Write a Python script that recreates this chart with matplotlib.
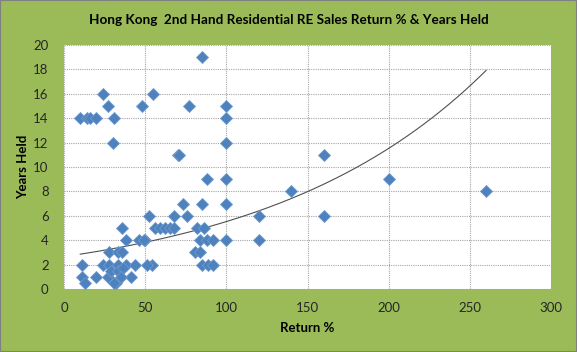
import matplotlib.pyplot as plt
import numpy as np
from matplotlib.patches import Rectangle

plt.rcParams['font.family'] = ['Lato', 'DejaVu Sans']

title = 'Hong Kong  2nd Hand Residential RE Sales Return % & Years Held'
x_label = 'Return %'
y_label = 'Years Held'

# return % of each sale
return_pct = [10, 14, 16, 20, 24, 27, 31, 30, 48, 55, 70, 71, 77, 85, 88, 100, 100, 100, 100,
              140, 160, 160, 200, 260, 120, 120,
              35.5, 38, 46, 50, 52.5, 68, 73.5, 76, 85, 100,
              56, 59, 62, 65, 68, 82, 86,
              49, 84, 88, 92, 100, 81, 84,
              85, 89, 92, 54,
              11, 24, 28, 33, 38, 44, 51, 28, 33, 36,
              11, 13, 20, 27, 29, 32, 33, 36.5, 41, 35, 31]
# years held
years_held = [14, 14, 14, 14, 16, 15, 14, 12, 15, 16, 11, 11, 15, 19, 9, 15, 14, 12, 9,
              8, 11, 6, 9, 8, 6, 4,
              5, 4, 4, 4, 6, 6, 7, 6, 7, 7,
              5, 5, 5, 5, 5, 5, 5,
              4, 4, 4, 4, 4, 3, 3,
              2, 2, 2, 2,
              2, 2, 2, 2, 2, 2, 2, 3, 3, 3,
              1, 0.5, 1, 1, 1.5, 0.5, 1.5, 1.7, 1, 1, 0.5]

# exponential trendline y = a * exp(b * x)
trend_a = 2.65
trend_b = 0.00735

bg = '#9BBB59'

fig = plt.figure(figsize=(5.77, 3.52), dpi=100, facecolor=bg)
ax = fig.add_axes([64 / 577, 1 - 289 / 352, 487 / 577, 244 / 352])
ax.set_facecolor('white')

x = np.array(return_pct, dtype=float)
y = np.array(years_held, dtype=float)

xt = np.linspace(x.min(), x.max(), 200)
ax.plot(xt, trend_a * np.exp(trend_b * xt), color='#505050', lw=0.8, zorder=3)

ax.plot(x, y, 'D', color='#4F81BD', markeredgecolor='#6A9AD0', markeredgewidth=0.6,
        markersize=6.5, zorder=4, clip_on=False)

ax.set_xlim(0, 300)
ax.set_ylim(0, 20)
ax.set_xticks(np.arange(0, 301, 50))
ax.set_yticks(np.arange(0, 21, 2))
ax.grid(True, color='#a6a6a6', linestyle=(0, (1, 1)), lw=0.8, zorder=0)
ax.set_axisbelow(True)
for s in ax.spines.values():
    s.set_visible(False)
ax.tick_params(length=0, labelsize=9.5, labelcolor='#262626')
ax.tick_params(axis='y', pad=11)
ax.tick_params(axis='x', pad=9)

ax.set_xlabel(x_label, fontsize=9.5, fontweight='bold', labelpad=6)
ax.set_ylabel(y_label, fontsize=9.5, fontweight='bold', labelpad=3)
fig.text(0.5, 1 - 20 / 352, title, ha='center', va='center', fontsize=9.7, fontweight='bold')

fig.patches.append(Rectangle((0, 0), 1, 1, transform=fig.transFigure, fill=False,
                             edgecolor='#808080', lw=1.5))

plt.savefig('out.png', dpi=100, facecolor=bg)
